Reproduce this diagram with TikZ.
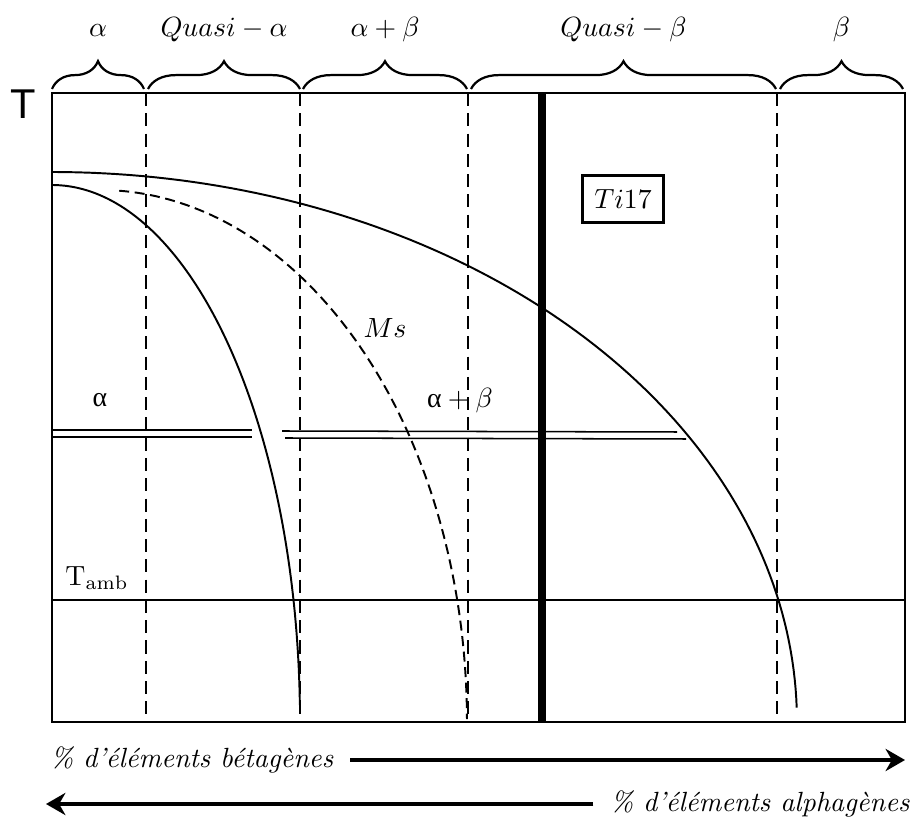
\documentclass[tikz,border=0pt]{standalone}
\usepackage{amsmath,amssymb}
\usepackage{fontspec}
\newfontfamily\sanst{Liberation Sans}
\newfontfamily\grkserif{Liberation Serif}
\usepackage{tikz}
\usetikzlibrary{arrows.meta,decorations.pathreplacing,positioning}

\begin{document}
\begin{tikzpicture}[x=0.36pt,y=-0.36pt,>=Stealth,
  frame/.style={line width=0.9pt},
  guide/.style={line width=0.55pt,dash pattern=on 4.7pt off 2.6pt},
  curve/.style={line width=0.7pt},
  mscurve/.style={line width=0.7pt,dash pattern=on 3.6pt off 2pt},
  twin/.style={line width=0.55pt},
  brc/.style={decorate,decoration={brace,amplitude=10pt},line width=0.8pt},
  brlab/.style={midway,above=14pt,text depth=.25ex},
  axarrow/.style={-{Stealth[length=7pt,width=8pt]},line width=1.3pt}]
\useasboundingbox (0,0) rectangle (915,823);
% frame and guides
\coordinate (nw) at (52,93);
\coordinate (se) at (905,722);
\draw[frame] (nw) rectangle (se);
\foreach \x in {146,300,468,777}
  \draw[guide] (\x,93) -- (\x,722);
\draw[line width=2.6pt] (542,93) -- (542,722);
\draw[frame] (52,600) -- (905,600);
% double lines
\draw[twin] (52,430) -- (252,430) (52,437) -- (252,437);
\draw[twin] (282,431) -- (677,432) (285,438) -- (686,439);
% curves, quarter ellipses
\draw[curve] plot[domain=90:1.5,samples=90] ({52+745*cos(\x)},{722-550*sin(\x)});
\draw[curve] plot[domain=90:1.8,samples=90] ({52+248*cos(\x)},{722-537*sin(\x)});
\draw[mscurve] plot[domain=87:0.3,samples=90] ({100+367*cos(\x)},{722-532*sin(\x)});
% braces
\draw[brc] (52,89) -- (144,89) node[brlab]{$\alpha$};
\draw[brc] (148,89) -- (300,89) node[brlab]{$Quasi-\alpha$};
\draw[brc] (303,89) -- (467,89) node[brlab]{$\alpha+\beta$};
\draw[brc] (471,89) -- (776,89) node[brlab]{$Quasi-\beta$};
\draw[brc] (780,89) -- (903,89) node[brlab]{$\beta$};
% labels
\node (taxis) at (23,104) {\fontsize{15}{18}\selectfont\sanst T};
\node[draw,line width=0.9pt,minimum width=29pt,minimum height=17pt] (ti17) at (623,199) {$Ti17$};
\node (ms) at (385,328) {$Ms$};
\node (alab) at (100,400) {\grkserif α};
\node (ablab) at (460,401) {$\text{\grkserif α}+\beta$};
\node (tamb) at (97,578) {$\mathrm{T}_{\mathrm{amb}}$};
% composition arrows
\node[anchor=west,inner sep=0pt] (beta) at (50,760) {\itshape\% d'éléments bétagènes};
\coordinate (betaend) at (905,760);
\draw[axarrow] ([xshift=6pt]beta.east) -- (betaend);
\node[anchor=east,inner sep=0pt] (alpha) at (910,804) {\itshape\% d'éléments alphagènes};
\coordinate (alphaend) at (46,804);
\draw[axarrow] ([xshift=-6pt]alpha.west) -- (alphaend);
\end{tikzpicture}
\end{document}
